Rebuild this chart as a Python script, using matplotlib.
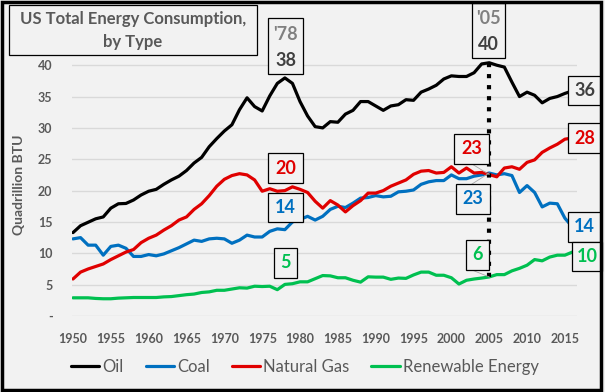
import numpy as np
import matplotlib
matplotlib.use("Agg")
import matplotlib.pyplot as plt
from matplotlib.patches import Rectangle

plt.rcParams['font.family'] = ['Lato', 'DejaVu Sans']

years = np.arange(1950, 2017)

oil = [13.3, 14.4, 14.95, 15.5, 15.8, 17.2, 17.9, 17.95, 18.5, 19.3,
       19.9, 20.2, 21.0, 21.7, 22.3, 23.2, 24.4, 25.3, 27.0, 28.3,
       29.5, 30.5, 32.9, 34.8, 33.4, 32.7, 35.1, 37.1, 37.97, 37.1,
       34.2, 31.9, 30.2, 30.0, 31.0, 30.9, 32.2, 32.8, 34.2, 34.2,
       33.5, 32.8, 33.5, 33.7, 34.5, 34.4, 35.7, 36.2, 36.8, 37.8,
       38.3, 38.2, 38.2, 38.8, 40.2, 40.39, 40.0, 39.7, 37.3, 35.0,
       35.7, 35.2, 34.0, 34.7, 35.0, 35.5, 35.9]

coal = [12.3, 12.5, 11.3, 11.3, 9.7, 11.1, 11.3, 10.8, 9.5, 9.5,
        9.8, 9.6, 9.9, 10.4, 10.9, 11.5, 12.1, 11.9, 12.3, 12.4,
        12.3, 11.6, 12.1, 12.9, 12.6, 12.6, 13.5, 13.9, 13.77, 15.0,
        15.4, 15.9, 15.3, 15.9, 17.0, 17.5, 17.3, 18.0, 18.8, 18.9,
        19.2, 19.0, 19.1, 19.8, 19.9, 20.1, 21.0, 21.4, 21.6, 21.6,
        22.5, 21.9, 21.9, 22.3, 22.5, 22.8, 22.5, 22.7, 22.4, 19.7,
        20.8, 19.7, 17.4, 18.0, 17.9, 15.6, 14.2]

gas = [5.9, 7.0, 7.5, 7.9, 8.3, 9.0, 9.6, 10.2, 10.6, 11.7,
       12.4, 12.9, 13.7, 14.4, 15.3, 15.8, 17.0, 17.9, 19.2, 20.7,
       21.8, 22.4, 22.7, 22.5, 21.7, 19.9, 20.3, 19.9, 20.0, 20.6,
       20.2, 19.7, 18.3, 17.2, 18.4, 17.7, 16.6, 17.6, 18.4, 19.6,
       19.6, 20.0, 20.7, 21.2, 21.7, 22.6, 23.1, 23.2, 22.8, 22.9,
       23.8, 22.8, 23.6, 22.8, 22.9, 22.56, 22.2, 23.6, 23.8, 23.4,
       24.5, 24.9, 26.1, 26.8, 27.4, 28.2, 28.4]

renew = [2.9, 2.9, 2.9, 2.8, 2.75, 2.75, 2.85, 2.9, 2.95, 2.95,
         2.95, 2.95, 3.05, 3.1, 3.25, 3.4, 3.5, 3.75, 3.85, 4.1,
         4.1, 4.3, 4.5, 4.45, 4.75, 4.7, 4.75, 4.2, 5.04, 5.15,
         5.45, 5.45, 5.95, 6.45, 6.4, 6.1, 6.1, 5.7, 5.4, 6.25,
         6.2, 6.2, 5.85, 6.05, 6.0, 6.55, 7.0, 7.0, 6.5, 6.5,
         6.1, 5.1, 5.7, 5.9, 6.05, 6.23, 6.6, 6.6, 7.2, 7.6,
         8.1, 9.0, 8.8, 9.4, 9.7, 9.7, 10.2]

names = ['Oil', 'Coal', 'Natural Gas', 'Renewable Energy']
colors = ['#000000', '#0070c0', '#e00000', '#00c050']
series = [oil, coal, gas, renew]

W, H = 605, 392
bg = '#f2f2f2'
grey = '#595959'

fig = plt.figure(figsize=(W / 100, H / 100), dpi=100, facecolor=bg)
ax = fig.add_axes([72 / W, 1 - 316 / H, 505 / W, 42 * 6.27 / H])
ax.set_facecolor(bg)

for s, c, n in zip(series, colors, names):
    ax.plot(years, s, color=c, lw=2.3, label=n, solid_capstyle='round', zorder=3)

ax.set_xlim(1949.87, 2016.6)
ax.set_ylim(0, 42)
ax.set_yticks(np.arange(0, 41, 5))
ax.set_yticklabels(['-'] + [str(v) for v in range(5, 41, 5)])
ax.set_xticks(np.arange(1950, 2016, 5))
ax.grid(axis='y', color='#d9d9d9', lw=1)
ax.tick_params(length=0, labelsize=9, labelcolor=grey)
ax.tick_params(axis='y', pad=14)
ax.tick_params(axis='x', pad=12)
for lab in ax.get_xticklabels() + ax.get_yticklabels():
    lab.set_fontweight('bold')
for sp in ax.spines.values():
    sp.set_visible(False)

fig.text(19 / W, 1 - 185 / H, 'Quadrillion BTU', rotation=90, ha='center', va='center',
         fontsize=10, fontweight='bold', color=grey)


def fx(px):
    return px / W


def fy(py):
    return 1 - py / H


def box(x0, y0, x1, y1):
    fig.patches.append(Rectangle((fx(x0), fy(y1)), (x1 - x0) / W, (y1 - y0) / H,
                                 transform=fig.transFigure, fill=True, facecolor=bg,
                                 edgecolor='black', lw=0.9, zorder=5))


def label(x0, y0, x1, y1, txt, col, size=13):
    box(x0, y0, x1, y1)
    fig.text(fx((x0 + x1) / 2), fy((y0 + y1) / 2), txt, ha='center', va='center',
             fontsize=size, fontweight='bold', color=col, zorder=6)


# title box
box(9, 5, 257, 55)
fig.text(fx(133), fy(19), 'US Total Energy Consumption,', ha='center', va='center',
         fontsize=12, fontweight='bold', color=grey, zorder=6)
fig.text(fx(133), fy(42), 'by Type', ha='center', va='center',
         fontsize=12, fontweight='bold', color=grey, zorder=6)

i78 = list(years).index(1978)
i05 = list(years).index(2005)

# 1978 labels
box(268, 18, 303, 74)
fig.text(fx(285.5), fy(34), "'78", ha='center', va='center', fontsize=13,
         fontweight='bold', color='#808080', zorder=6)
fig.text(fx(285.5), fy(61), f"{oil[i78]:.0f}", ha='center', va='center', fontsize=13,
         fontweight='bold', color='#404040', zorder=6)
label(268, 153, 303, 183, f"{gas[i78]:.0f}", colors[2])
label(268, 193, 303, 222, f"{coal[i78]:.0f}", colors[1])
label(274, 248, 297, 278, f"{renew[i78]:.0f}", colors[3])

# 2005 labels
ax.plot([2005, 2005], [oil[i05], renew[i05]], color='black', lw=3, ls=':', zorder=4)
box(472, 3, 505, 58)
fig.text(fx(488.5), fy(18), "'05", ha='center', va='center', fontsize=13,
         fontweight='bold', color='#808080', zorder=6)
fig.text(fx(488.5), fy(45), f"{oil[i05]:.0f}", ha='center', va='center', fontsize=13,
         fontweight='bold', color='#404040', zorder=6)
label(454, 134, 489, 164, f"{gas[i05]:.0f}", colors[2])
label(456, 184, 490, 214, f"{coal[i05]:.0f}", colors[1])
label(466, 240, 489, 270, f"{renew[i05]:.0f}", colors[3])

# leader lines
for (px, py), v in [((472, 164), gas[i05]), ((472, 184), coal[i05]), ((472, 270), renew[i05])]:
    xd, yd = ax.transData.transform((2005, v))
    fig.add_artist(plt.Line2D([fx(px), xd / W], [fy(py), yd / H], transform=fig.transFigure,
                              color='#a6a6a6', lw=0.6, zorder=2))

# end labels
label(568, 76, 601, 105, f"{oil[-1]:.0f}", '#404040')
label(568, 123, 601, 153, f"{gas[-1]:.0f}", colors[2])
label(568, 212, 601, 242, f"{coal[-1]:.0f}", colors[1])
label(572, 242, 602, 271, f"{renew[-1]:.0f}", colors[3])

leg = fig.legend(loc='center', bbox_to_anchor=(fx(305), fy(367)), ncol=4, frameon=False,
                 fontsize=12, handlelength=1.7, handletextpad=0.2, columnspacing=1.3)
for t in leg.get_texts():
    t.set_color(grey)

# outer border
fig.patches.append(Rectangle((0.003, 0.004), 0.991, 0.99, transform=fig.transFigure,
                             fill=False, edgecolor='black', lw=2.5, zorder=10))

fig.savefig('out.png', dpi=100, facecolor=bg)
